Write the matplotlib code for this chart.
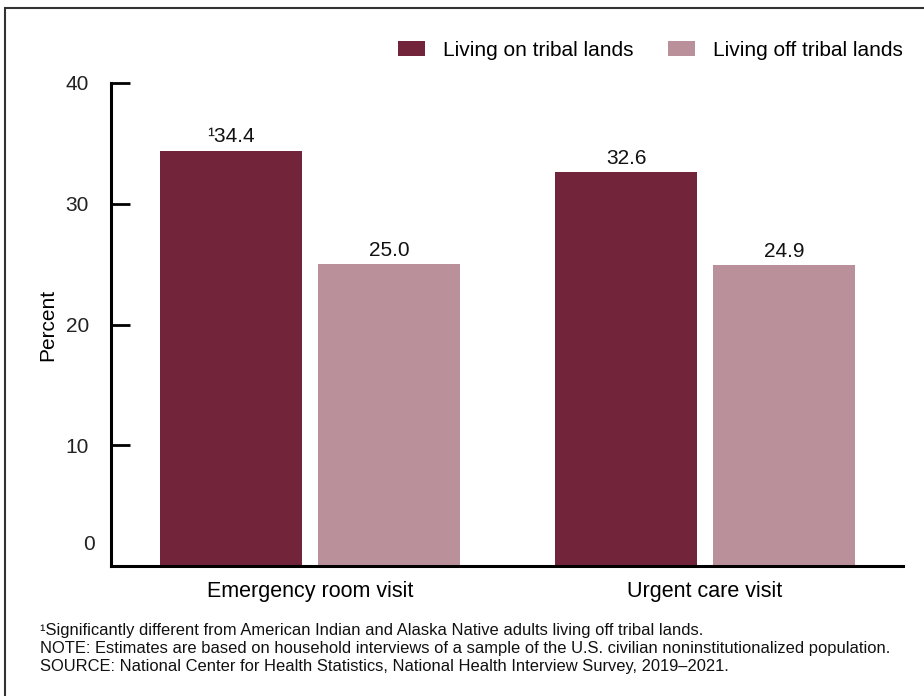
import numpy as np
import matplotlib.pyplot as plt
from matplotlib.patches import Rectangle

plt.rcParams['font.family'] = ['Liberation Sans', 'DejaVu Sans']

# --- Data ---
categories = ["Emergency room visit", "Urgent care visit"]
on_tribal = [34.4, 32.6]
off_tribal = [25.0, 24.9]
on_labels = ["\u00b934.4", "32.6"]
off_labels = ["25.0", "24.9"]
series_names = ["Living on tribal lands", "Living off tribal lands"]

dark = "#72243b"
light = "#ba919b"

fig = plt.figure(figsize=(9.24, 6.96), dpi=100)
ax = fig.add_axes([111 / 924, 130 / 696, 792 / 924, 483 / 696])

x = np.arange(len(categories))
w = 0.36
b1 = ax.bar(x - 0.2, on_tribal, w, color=dark, label=series_names[0])
b2 = ax.bar(x + 0.2, off_tribal, w, color=light, label=series_names[1])

for bars, labs in [(b1, on_labels), (b2, off_labels)]:
    for rect, lab in zip(bars, labs):
        ax.annotate(lab, (rect.get_x() + rect.get_width() / 2, rect.get_height()),
                    xytext=(0, 3), textcoords="offset points", ha="center",
                    va="bottom", fontsize=15, color="#111111")

ax.set_xlim(-0.504, 1.501)
ax.set_ylim(0, 40)
ax.set_yticks([10, 20, 30, 40])
ax.tick_params(axis="y", direction="in", length=14, width=2, labelsize=15,
               pad=16, labelcolor="#222222")
ax.set_xticks(x)
ax.set_xticklabels(categories, fontsize=15.5)
ax.tick_params(axis="x", length=0, pad=11)

# zero label sits slightly above the baseline, no tick
ax.text(-16 / 792, 1.75, "0", transform=ax.get_yaxis_transform(), ha="right",
        va="center", fontsize=15, color="#222222")

ax.spines["top"].set_visible(False)
ax.spines["right"].set_visible(False)
ax.spines["left"].set_linewidth(2.2)
ax.spines["bottom"].set_linewidth(2.2)

ax.set_ylabel("Percent", fontsize=15, labelpad=6)

ax.legend(loc="center right", bbox_to_anchor=(1.0, 1.068), ncol=2, frameon=False,
          fontsize=15, handlelength=1.3, handleheight=0.77,
          handletextpad=0.87, columnspacing=1.63, borderaxespad=0, borderpad=0)

# footnotes
notes = [
    "\u00b9Significantly different from American Indian and Alaska Native adults living off tribal lands.",
    "NOTE: Estimates are based on household interviews of a sample of the U.S. civilian noninstitutionalized population.",
    "SOURCE: National Center for Health Statistics, National Health Interview Survey, 2019\u20132021.",
]
for i, t in enumerate(notes):
    fig.text(40 / 924, 1 - (631 + i * 17.5) / 696, t, fontsize=11.85, va="center",
             ha="left", color="#111111")

# outer frame (right and bottom edges fall outside the image)
fig.patches.append(Rectangle((5 / 924, -0.1), 1.2, 1 - 8 / 696 + 0.1,
                             transform=fig.transFigure, fill=False,
                             edgecolor="#333333", linewidth=1.5))

fig.savefig("out.png", dpi=100)
